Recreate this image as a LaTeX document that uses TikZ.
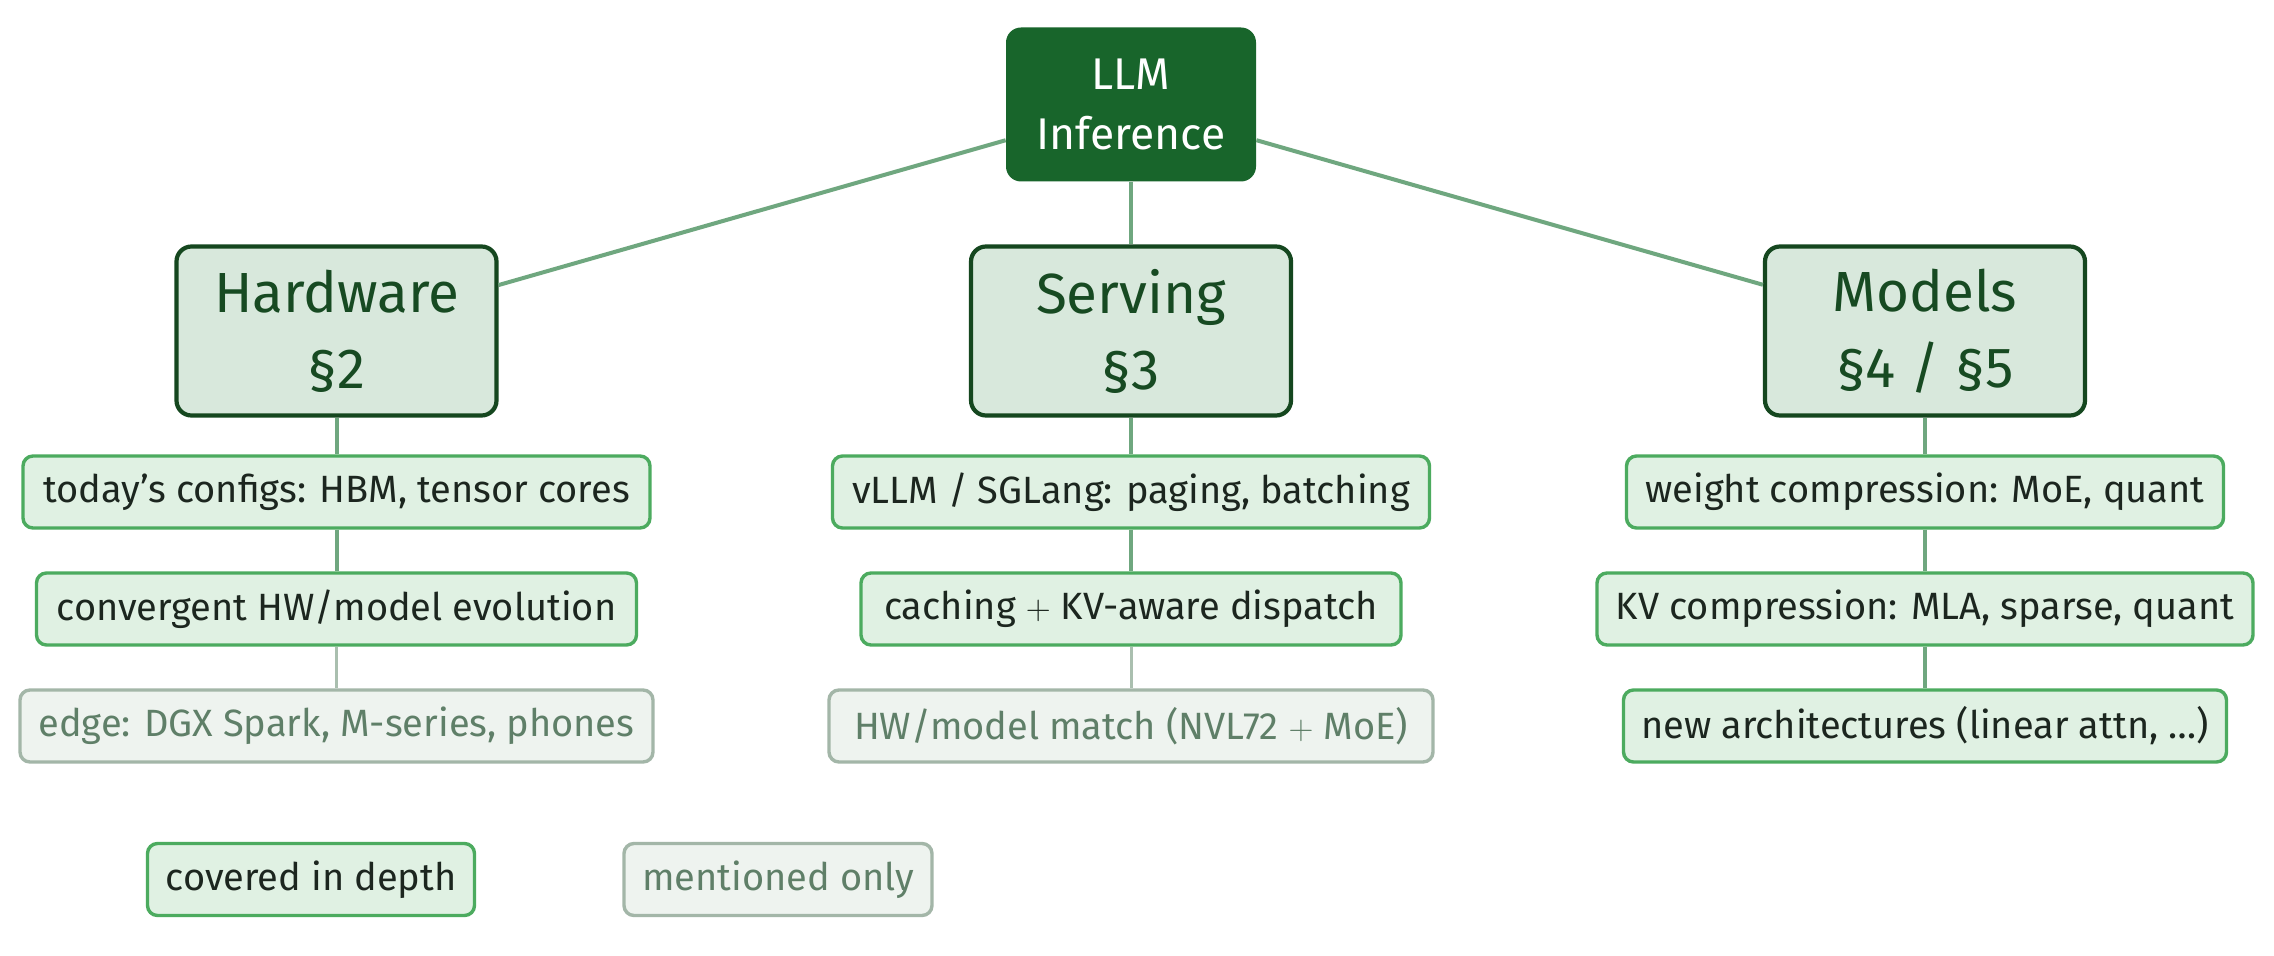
\documentclass[tikz,border=0pt]{standalone}
\usepackage{fontspec}
\setmainfont{Fira Sans}
\definecolor{rootfill}{HTML}{18652B}
\definecolor{catfill}{HTML}{D8E8DC}
\definecolor{catdraw}{HTML}{15471F}
\definecolor{cattext}{HTML}{174A22}
\definecolor{leaffill}{HTML}{E0F1E3}
\definecolor{leafdraw}{HTML}{4CAB5F}
\definecolor{leaftext}{HTML}{1C261F}
\definecolor{minfill}{HTML}{EEF3EF}
\definecolor{mindraw}{HTML}{A3B6A8}
\definecolor{mintext}{HTML}{5F7F68}
\definecolor{linkc}{HTML}{6FA77F}
\definecolor{linkm}{HTML}{AABFAF}
\tikzset{
  rootbox/.style={rounded corners=7.5pt, fill=rootfill, text=white, font=\fontsize{22.2}{30}\selectfont, align=center, minimum width=125pt, minimum height=77pt, inner sep=0pt},
  catbox/.style={rounded corners=7.5pt, fill=catfill, draw=catdraw, line width=2.1pt, text=cattext, font=\fontsize{28.3}{38}\selectfont, align=center, minimum width=160pt, minimum height=84.5pt, inner sep=0pt},
  leafbox/.style={rounded corners=5pt, fill=leaffill, draw=leafdraw, line width=1.7pt, text=leaftext, font=\fontsize{19}{22}\selectfont, minimum height=36pt, minimum width=#1, inner sep=0pt},
  minbox/.style={rounded corners=5pt, fill=minfill, draw=mindraw, line width=1.7pt, text=mintext, font=\fontsize{19}{22}\selectfont, minimum height=36pt, minimum width=#1, inner sep=0pt},
  link/.style={draw=linkc, line width=2pt},
  linkmin/.style={draw=linkm, line width=1.5pt}
}
\begin{document}
\begin{tikzpicture}[x=0.5pt, y=-0.5pt]
\useasboundingbox[fill=white] (0,0) rectangle (2274,956);
% root and categories
\node[rootbox] (root) at (1131,104.5) {LLM\\Inference};
\node[catbox] (hw) at (336.5,331) {Hardware\\\S2};
\node[catbox] (sv) at (1131,331) {Serving\\\S3};
\node[catbox] (md) at (1925,331) {Models\\\S4 / \S5};
% hardware leaves
\node[leafbox=313.5pt] (h1) at (336.5,492) {today’s configs: HBM, tensor cores};
\node[leafbox=300pt] (h2) at (336.5,609) {convergent HW/model evolution};
\node[minbox=316.5pt] (h3) at (336.5,726) {edge: DGX Spark, M-series, phones};
% serving leaves
\node[leafbox=298.5pt] (s1) at (1131,492) {vLLM / SGLang: paging, batching};
\node[leafbox=270pt] (s2) at (1131,609) {caching $+$ KV-aware dispatch};
\node[minbox=302pt] (s3) at (1131,726) {HW/model match (NVL72 $+$ MoE)};
% model leaves
\node[leafbox=298.5pt] (m1) at (1925,492) {weight compression: MoE, quant};
\node[leafbox=328pt] (m2) at (1925,609) {KV compression: MLA, sparse, quant};
\node[leafbox=301.5pt] (m3) at (1925,726) {new architectures (linear attn, \dots)};
% legend
\node[leafbox=163.5pt] (lgc) at (311,879.5) {covered in depth};
\node[minbox=154pt] (lgm) at (778,879.5) {mentioned only};
% connectors
\draw[link] (root) -- (hw);
\draw[link] (root) -- (sv);
\draw[link] (root) -- (md);
\draw[link] (hw) -- (h1);
\draw[link] (h1) -- (h2);
\draw[linkmin] (h2) -- (h3);
\draw[link] (sv) -- (s1);
\draw[link] (s1) -- (s2);
\draw[linkmin] (s2) -- (s3);
\draw[link] (md) -- (m1);
\draw[link] (m1) -- (m2);
\draw[link] (m2) -- (m3);
\end{tikzpicture}
\end{document}
